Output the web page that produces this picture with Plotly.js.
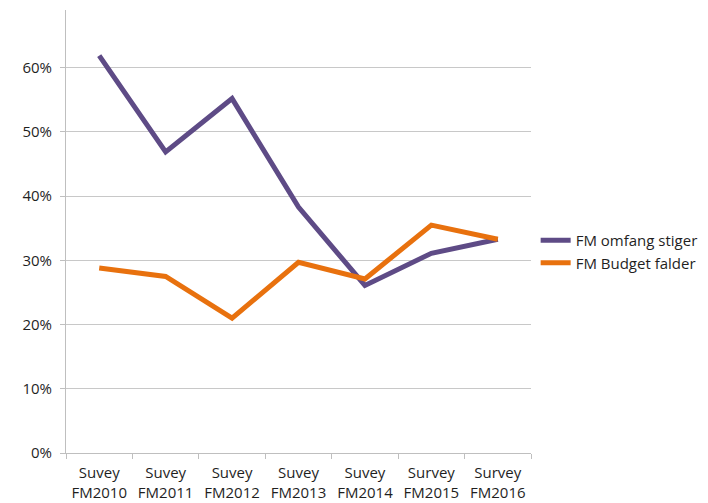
<!DOCTYPE html>
<html>
<head>
<meta charset="utf-8">
<script src="https://cdn.plot.ly/plotly-3.0.1.min.js"></script>
<style>
  html, body { margin: 0; padding: 0; background: #fff; }
  #chart { width: 708px; height: 503px; }
</style>
</head>
<body>
<div id="chart"></div>
<script>
// Survey rounds on the category axis
const categories = ['Suvey<br>FM2010', 'Suvey<br>FM2011', 'Suvey<br>FM2012', 'Suvey<br>FM2013',
                    'Suvey<br>FM2014', 'Survey<br>FM2015', 'Survey<br>FM2016'];

// Share of respondents per survey
const omfangStiger = [0.619, 0.469, 0.552, 0.383, 0.261, 0.311, 0.333];
const budgetFalder = [0.288, 0.275, 0.210, 0.297, 0.271, 0.355, 0.333];

const seriesNames = ['FM omfang stiger', 'FM Budget falder'];
const yTickValues = [0, 0.1, 0.2, 0.3, 0.4, 0.5, 0.6];

const textColor = '#1f1f1f';
const fontFamily = 'Open Sans, Liberation Sans, sans-serif';

const traces = [
  {
    x: categories, y: omfangStiger, name: seriesNames[0],
    type: 'scatter', mode: 'lines',
    line: { color: '#5E4B86', width: 5 }
  },
  {
    x: categories, y: budgetFalder, name: seriesNames[1],
    type: 'scatter', mode: 'lines',
    line: { color: '#E8710E', width: 5 }
  }
];

const layout = {
  width: 708, height: 503,
  // fixed margins so the legend does not squeeze the plot area
  margin: { l: 66, r: 177, t: 10, b: 50, autoexpand: false },
  paper_bgcolor: '#ffffff', plot_bgcolor: '#ffffff',
  font: { family: fontFamily, size: 15, color: textColor },
  showlegend: true,
  legend: {
    x: 1.01, xanchor: 'left', y: 0.455, yanchor: 'middle',
    font: { family: fontFamily, size: 15, color: textColor },
    itemwidth: 30, tracegroupgap: 2, traceorder: 'normal'
  },
  xaxis: {
    type: 'category',
    range: [-0.5, categories.length - 0.5],
    showgrid: false, zeroline: false,
    showline: true, linecolor: '#bfbfbf', linewidth: 1,
    ticks: 'outside', ticklen: 5, tickcolor: '#bfbfbf',
    tickson: 'boundaries',
    ticklabelstandoff: 6,
    tickfont: { family: fontFamily, size: 15, color: textColor },
    fixedrange: true
  },
  yaxis: {
    range: [0, 0.69],
    tickvals: yTickValues, tickformat: '.0%',
    showgrid: true, gridcolor: '#c8c8c8', gridwidth: 1,
    zeroline: false,
    showline: true, linecolor: '#bfbfbf', linewidth: 1,
    ticks: 'outside', ticklen: 5, tickcolor: '#bfbfbf',
    ticklabelstandoff: 5,
    tickfont: { family: fontFamily, size: 15, color: textColor },
    fixedrange: true
  }
};

Plotly.newPlot('chart', traces, layout, { displayModeBar: false, staticPlot: true });
</script>
</body>
</html>
